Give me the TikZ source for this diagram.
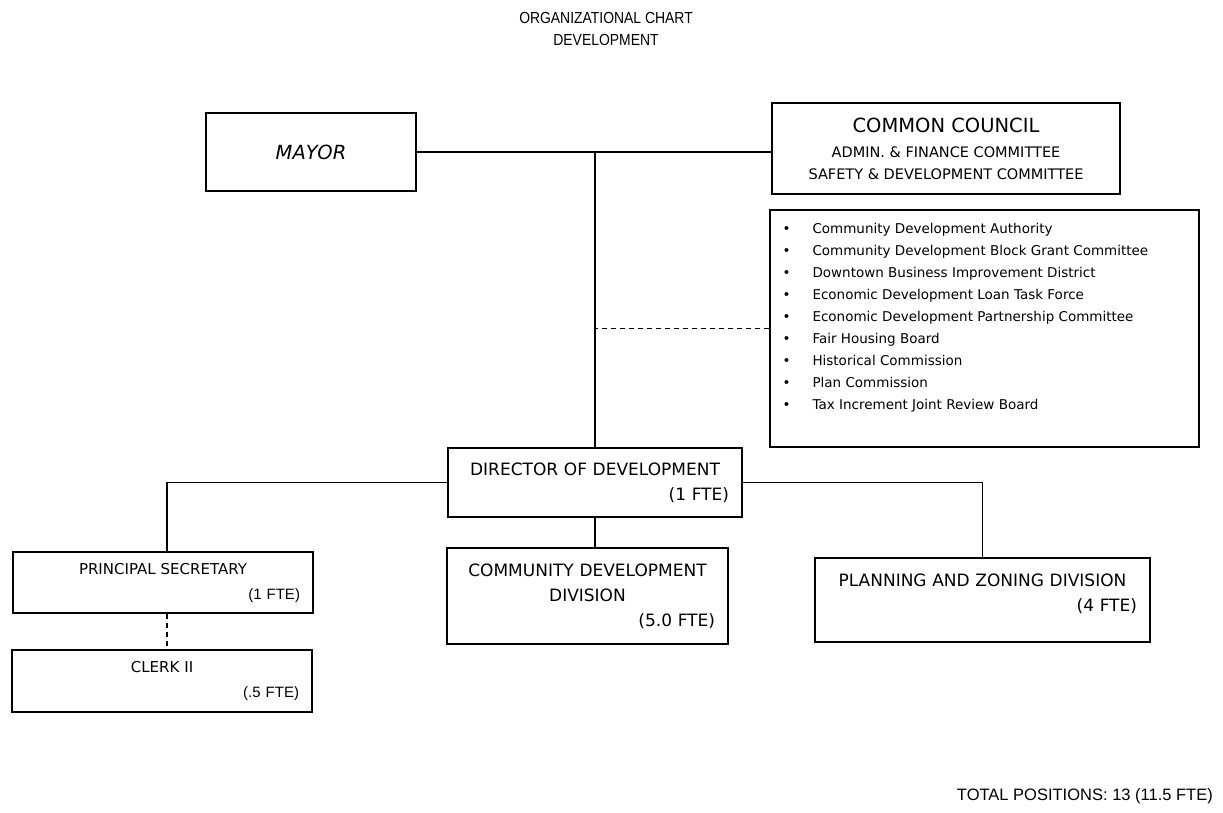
\documentclass[tikz,border=0pt]{standalone}
\usepackage{fontspec}
\setmainfont{DejaVu Sans}
\newfontfamily\arialfont{Liberation Sans}
\usetikzlibrary{positioning}
\newcommand{\fte}[1]{\hspace*{0pt plus 1fill}#1}
\newcommand{\itm}[1]{\makebox[30pt][l]{\textbullet}#1}

\begin{document}
\begin{tikzpicture}[x=1pt, y=-1pt,
    orgbox/.style={draw, line width=1.4pt, align=center, inner xsep=13pt, inner ysep=0pt, font=\fontsize{17}{25}\selectfont},
    smallbox/.style={orgbox, font=\fontsize{15}{25}\selectfont},
    conn/.style={line width=1.4pt},
    dotconn/.style={line width=1.2pt, dash pattern=on 5pt off 4pt}]
\useasboundingbox (0,0) rectangle (1223,812);

% title
\node[font=\arialfont\fontsize{16}{22}\selectfont] (title) at (606,18) {\scalebox{0.87}[1]{ORGANIZATIONAL CHART}};
\node[font=\arialfont\fontsize{16}{22}\selectfont] (subtitle) at (606,40) {\scalebox{0.87}[1]{DEVELOPMENT}};

% top level
\node[orgbox, minimum width=210pt, minimum height=78pt, font=\fontsize{19.5}{24}\selectfont\itshape] (mayor) at (311,152) {MAYOR};
\node[orgbox, minimum width=348pt, minimum height=91pt, font=\fontsize{14.5}{22}\selectfont] (council) at (946,148.5) {{\fontsize{19.5}{24}\selectfont COMMON COUNCIL}\\[3pt] ADMIN. \& FINANCE COMMITTEE\\ SAFETY \& DEVELOPMENT COMMITTEE};

% boards and commissions
\node[draw, line width=1.4pt, minimum width=429pt, minimum height=237pt] (list) at (984.5,328.5) {};
\node[anchor=north west, inner sep=0pt, align=left, font=\fontsize{13.5}{22}\selectfont] (items) at ([xshift=13pt,yshift=-14pt]list.north west) {%
    \itm{Community Development Authority}\\
    \itm{Community Development Block Grant Committee}\\
    \itm{Downtown Business Improvement District}\\
    \itm{Economic Development Loan Task Force}\\
    \itm{Economic Development Partnership Committee}\\
    \itm{Fair Housing Board}\\
    \itm{Historical Commission}\\
    \itm{Plan Commission}\\
    \itm{Tax Increment Joint Review Board}};

% department
\node[orgbox, minimum height=69pt, text width=268pt] (director) at (595,482.5) {DIRECTOR OF DEVELOPMENT\\ \fte{(1 FTE)}};
\node[orgbox, minimum height=96pt, text width=255pt] (cdd) at (587.5,596) {COMMUNITY DEVELOPMENT\\ DIVISION\\ \fte{(5.0 FTE)}};
\node[orgbox, minimum height=84pt, text width=309pt] (planning) at (982.5,600) {PLANNING AND ZONING DIVISION\\ \fte{(4 FTE)}\\[-10pt]\mbox{}};
\node[smallbox, minimum height=61pt, text width=274pt] (principal) at (163,582.5) {PRINCIPAL SECRETARY\\ \fte{\arialfont (1 FTE)}};
\node[smallbox, minimum height=62pt, text width=274pt] (clerk) at (162,681) {CLERK II\\ \fte{\arialfont (.5 FTE)}};

% connectors
\draw[conn] (mayor.east) -- (council.west |- mayor.east);
\draw[conn] (director.north) -- (director.north |- mayor.east);
\draw[dotconn] (list.west) -- (director.north |- list.west);
\draw[conn] (director.west) -| ([xshift=4pt]principal.north);
\draw[conn] (director.east) -| (planning.north);
\draw[conn] (director.south) -- (director.south |- cdd.north);
\draw[dotconn] ([xshift=4pt]principal.south) -- ([xshift=4pt]principal.south |- clerk.north);

\node[anchor=east, inner sep=0pt, font=\arialfont\fontsize{16.5}{20}\selectfont] (total) at (1213,796) {TOTAL POSITIONS: 13 (11.5 FTE)};
\end{tikzpicture}
\end{document}
